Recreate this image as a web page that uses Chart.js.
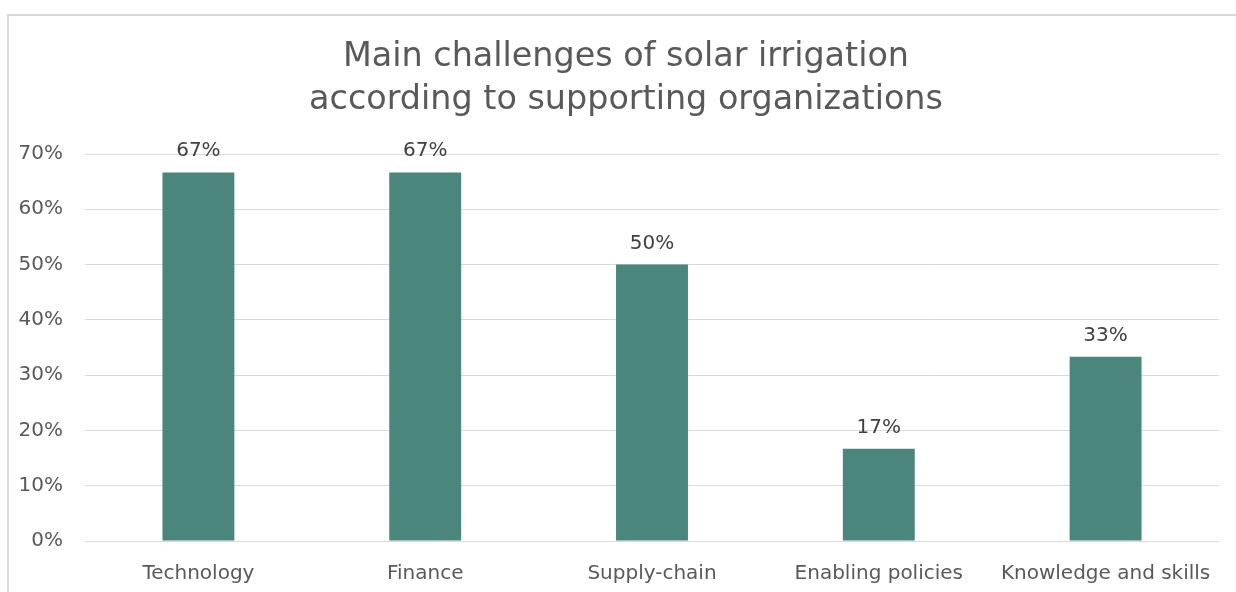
<!DOCTYPE html>
<html>
<head>
<meta charset="utf-8">
<script src="https://cdn.jsdelivr.net/npm/chart.js@4"></script>
<style>
    html, body { margin: 0; padding: 0; background: #fff; overflow: hidden; }
    #frame {
        position: absolute; left: 7px; top: 14px;
        width: 1240px; height: 600px;
        border-left: 2px solid #d9d9d9; border-top: 2px solid #d9d9d9;
    }
    #wrap { position: absolute; left: 0; top: 0; width: 1234px; height: 576px; }
</style>
</head>
<body>
<div id="frame"><div id="wrap"><canvas id="chart"></canvas></div></div>
<script>
    const categories = ["Technology", "Finance", "Supply-chain", "Enabling policies", "Knowledge and skills"];
    const shares = [0.6667, 0.6667, 0.5, 0.1667, 0.3333];
    const titleLines = ["Main challenges of solar irrigation", "according to supporting organizations"];

    const fontFamily = "'DejaVu Sans', sans-serif";
    const pct = v => Math.round(v * 100) + "%";

    // title centred on the whole frame, not on the padded layout box
    const frameTitle = {
        id: "frameTitle",
        afterDraw(chart) {
            const ctx = chart.ctx;
            ctx.save();
            ctx.font = "33.4px " + fontFamily;
            ctx.fillStyle = "#595959";
            ctx.textAlign = "center";
            ctx.textBaseline = "middle";
            titleLines.forEach((line, i) => ctx.fillText(line, chart.width / 2, 41.5 + i * 43));
            ctx.restore();
        }
    };

    // labels above each bar
    const barLabels = {
        id: "barLabels",
        afterDatasetsDraw(chart) {
            const ctx = chart.ctx;
            const meta = chart.getDatasetMeta(0);
            ctx.save();
            ctx.font = "20px " + fontFamily;
            ctx.fillStyle = "#404040";
            ctx.textAlign = "center";
            ctx.textBaseline = "alphabetic";
            meta.data.forEach((bar, i) => {
                ctx.fillText(pct(shares[i]), bar.x, bar.y - 16);
            });
            ctx.restore();
        }
    };

    new Chart(document.getElementById("chart"), {
        type: "bar",
        data: {
            labels: categories,
            datasets: [{
                data: shares,
                backgroundColor: "#4a867b",
                categoryPercentage: 1,
                barPercentage: 0.317
            }]
        },
        options: {
            responsive: true,
            maintainAspectRatio: false,
            animation: false,
            layout: { padding: { left: 0, right: 24, top: 138, bottom: 0 } },
            plugins: {
                legend: { display: false },
                tooltip: { enabled: false },
                title: { display: false }
            },
            scales: {
                x: {
                    grid: { display: false },
                    border: { display: false },
                    ticks: { color: "#595959", font: { family: fontFamily, size: 20 }, padding: 13, maxRotation: 0 },
                    afterFit(scale) { scale.height = 51; }
                },
                y: {
                    min: 0, max: 0.7,
                    grid: { color: "#d9d9d9", lineWidth: 1, drawTicks: false },
                    border: { display: false },
                    ticks: { stepSize: 0.1, color: "#595959", font: { family: fontFamily, size: 20 }, padding: 22, callback: v => pct(v) },
                    afterFit(scale) { scale.width = 76; }
                }
            }
        },
        plugins: [barLabels, frameTitle]
    });
</script>
</body>
</html>
